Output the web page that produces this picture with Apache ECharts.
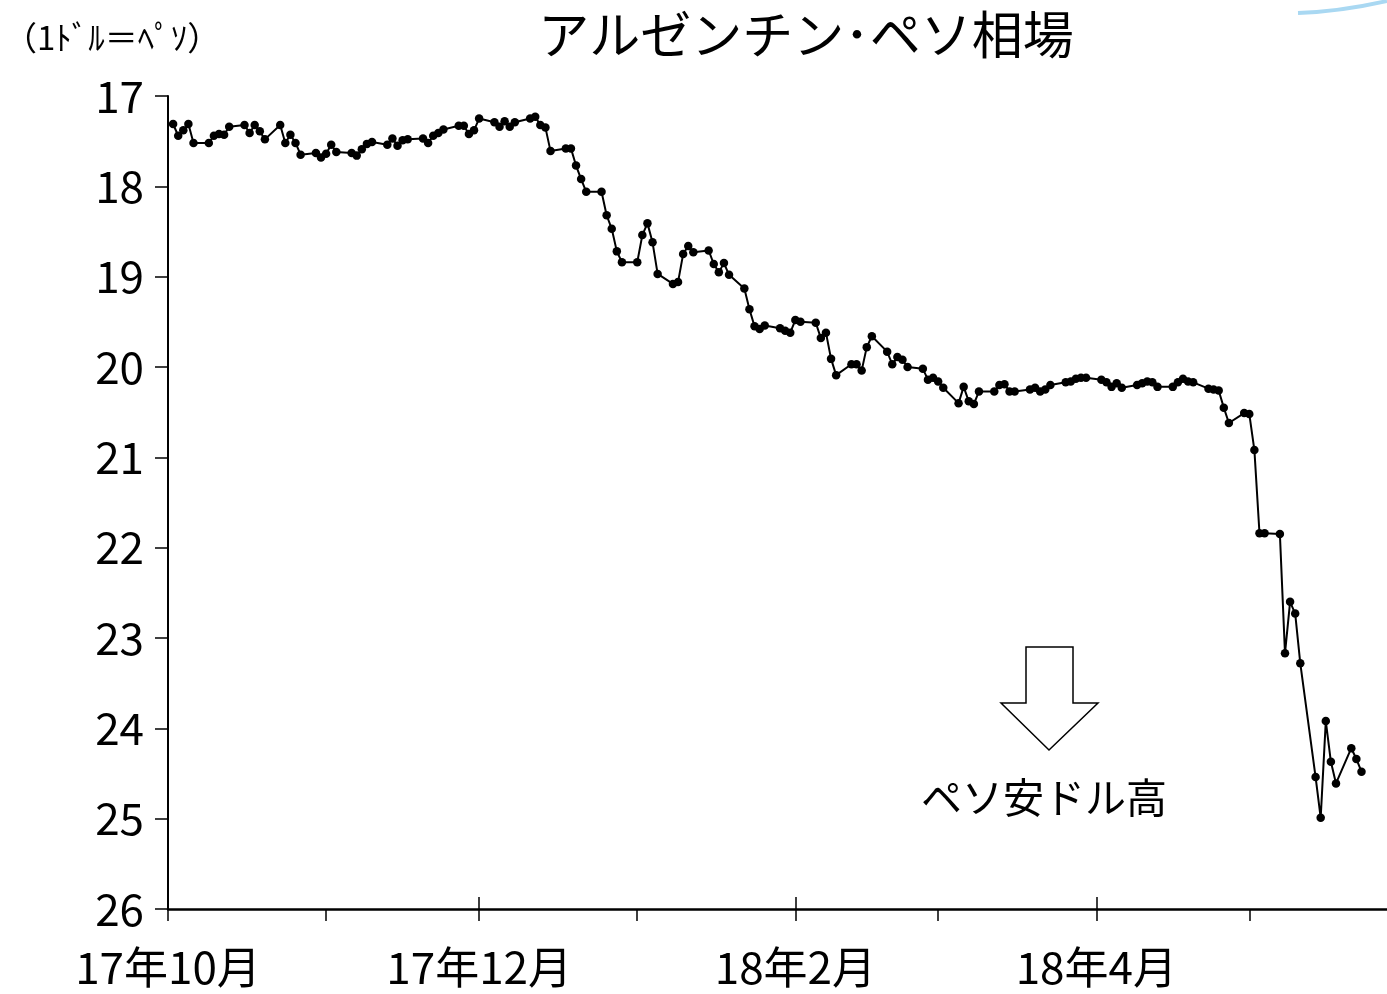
<!DOCTYPE html>
<html>
<head>
<meta charset="utf-8">
<script src="https://cdn.jsdelivr.net/npm/echarts@6/dist/echarts.min.js"></script>
<style>
  html, body { margin: 0; padding: 0; background: #fff; }
  #chart { width: 1387px; height: 994px; }
</style>
</head>
<body>
<div id="chart"></div>
<script>
// 日付 (営業日) と 1ドル=ペソ の値
const dates = [
  '2017-10-02','2017-10-03','2017-10-04','2017-10-05','2017-10-06',
  '2017-10-09','2017-10-10','2017-10-11','2017-10-12','2017-10-13',
  '2017-10-16','2017-10-17','2017-10-18','2017-10-19','2017-10-20',
  '2017-10-23','2017-10-24','2017-10-25','2017-10-26','2017-10-27',
  '2017-10-30','2017-10-31','2017-11-01','2017-11-02','2017-11-03',
  '2017-11-06','2017-11-07','2017-11-08','2017-11-09','2017-11-10',
  '2017-11-13','2017-11-14','2017-11-15','2017-11-16','2017-11-17',
  '2017-11-20','2017-11-21','2017-11-22','2017-11-23','2017-11-24',
  '2017-11-27','2017-11-28','2017-11-29','2017-11-30','2017-12-01',
  '2017-12-04','2017-12-05','2017-12-06','2017-12-07','2017-12-08',
  '2017-12-11','2017-12-12','2017-12-13','2017-12-14','2017-12-15',
  '2017-12-18','2017-12-19','2017-12-20','2017-12-21','2017-12-22',
  '2017-12-25','2017-12-26','2017-12-27','2017-12-28','2017-12-29',
  '2018-01-01','2018-01-02','2018-01-03','2018-01-04','2018-01-05',
  '2018-01-08','2018-01-09','2018-01-10','2018-01-11','2018-01-12',
  '2018-01-15','2018-01-16','2018-01-17','2018-01-18','2018-01-19',
  '2018-01-22','2018-01-23','2018-01-24','2018-01-25','2018-01-26',
  '2018-01-29','2018-01-30','2018-01-31','2018-02-01','2018-02-02',
  '2018-02-05','2018-02-06','2018-02-07','2018-02-08','2018-02-09',
  '2018-02-12','2018-02-13','2018-02-14','2018-02-15','2018-02-16',
  '2018-02-19','2018-02-20','2018-02-21','2018-02-22','2018-02-23',
  '2018-02-26','2018-02-27','2018-02-28','2018-03-01','2018-03-02',
  '2018-03-05','2018-03-06','2018-03-07','2018-03-08','2018-03-09',
  '2018-03-12','2018-03-13','2018-03-14','2018-03-15','2018-03-16',
  '2018-03-19','2018-03-20','2018-03-21','2018-03-22','2018-03-23',
  '2018-03-26','2018-03-27','2018-03-28','2018-03-29','2018-03-30',
  '2018-04-02','2018-04-03','2018-04-04','2018-04-05','2018-04-06',
  '2018-04-09','2018-04-10','2018-04-11','2018-04-12','2018-04-13',
  '2018-04-16','2018-04-17','2018-04-18','2018-04-19','2018-04-20',
  '2018-04-23','2018-04-24','2018-04-25','2018-04-26','2018-04-27',
  '2018-04-30','2018-05-01','2018-05-02','2018-05-03','2018-05-04',
  '2018-05-07','2018-05-08','2018-05-09','2018-05-10','2018-05-11',
  '2018-05-14','2018-05-15','2018-05-16','2018-05-17','2018-05-18',
  '2018-05-21','2018-05-22','2018-05-23'
]
const peso = [
  17.31, 17.44, 17.38, 17.31, 17.52,
  17.52, 17.44, 17.42, 17.43, 17.34,
  17.32, 17.41, 17.32, 17.39, 17.48,
  17.32, 17.52, 17.43, 17.52, 17.65,
  17.63, 17.68, 17.64, 17.54, 17.62,
  17.63, 17.66, 17.59, 17.53, 17.51,
  17.54, 17.47, 17.55, 17.49, 17.48,
  17.47, 17.52, 17.44, 17.41, 17.37,
  17.33, 17.33, 17.42, 17.38, 17.25,
  17.29, 17.34, 17.28, 17.34, 17.29,
  17.25, 17.23, 17.32, 17.35, 17.61,
  17.58, 17.58, 17.77, 17.92, 18.06,
  18.06, 18.32, 18.47, 18.72, 18.84,
  18.84, 18.54, 18.41, 18.62, 18.97,
  19.08, 19.06, 18.75, 18.66, 18.73,
  18.71, 18.86, 18.95, 18.85, 18.98,
  19.13, 19.36, 19.55, 19.58, 19.54,
  19.57, 19.60, 19.62, 19.48, 19.50,
  19.51, 19.68, 19.62, 19.91, 20.09,
  19.97, 19.97, 20.04, 19.78, 19.66,
  19.83, 19.97, 19.89, 19.92, 20.00,
  20.02, 20.14, 20.12, 20.16, 20.23,
  20.40, 20.22, 20.38, 20.41, 20.27,
  20.27, 20.20, 20.19, 20.27, 20.27,
  20.25, 20.23, 20.27, 20.25, 20.20,
  20.17, 20.16, 20.13, 20.12, 20.12,
  20.14, 20.17, 20.22, 20.18, 20.23,
  20.20, 20.18, 20.16, 20.17, 20.22,
  20.22, 20.17, 20.13, 20.16, 20.17,
  20.24, 20.25, 20.26, 20.45, 20.62,
  20.51, 20.52, 20.92, 21.84, 21.84,
  21.85, 23.17, 22.60, 22.73, 23.28,
  24.54, 24.99, 23.92, 24.37, 24.61,
  24.22, 24.34, 24.48
]
// 目盛 (月初)
const labelMonths = ['2017-10-01', '2017-12-01', '2018-02-01', '2018-04-01']
const minorMonths = ['2017-11-01', '2018-01-01', '2018-03-01', '2018-05-01']
const xStart = '2017-10-01'
const xEnd = '2018-05-28'

// 日付 → 日数 (2017-10-01 起点)
const DAY = 86400000
const dayNo = (s) => {
  const [y, m, d] = s.split('-').map(Number)
  return Math.round((Date.UTC(y, m - 1, d) - Date.UTC(2017, 9, 1)) / DAY)
}
const dayLabel = (n) => {
  const d = new Date(Date.UTC(2017, 9, 1) + n * DAY)
  return String(d.getUTCFullYear()).slice(2) + '年' + (d.getUTCMonth() + 1) + '月'
}

const chart = echarts.init(document.getElementById('chart'))
const font = '"Noto Sans CJK JP", "Noto Sans", sans-serif'

const option = {
  animation: false,
  backgroundColor: '#fff',
  textStyle: { fontFamily: font },
  title: {
    text: 'アルゼンチン･ペソ相場',
    left: 801,
    textAlign: 'center',
    top: 4,
    textStyle: { fontFamily: font, fontSize: 51, fontWeight: 'normal', color: '#000' }
  },
  grid: {
    left: 168, right: 0, top: 96, bottom: 85,
    containLabel: false,
    outerBoundsMode: 'none'
  },
  xAxis: [
    {
      type: 'value',
      min: dayNo(xStart),
      max: dayNo(xEnd),
      axisLine: { lineStyle: { color: '#000', width: 2.5 } },
      axisTick: {
        show: true, inside: false, length: 12,
        customValues: labelMonths.concat(minorMonths).map(dayNo),
        lineStyle: { color: '#000', width: 1.5 }
      },
      axisLabel: {
        customValues: labelMonths.map(dayNo),
        color: '#000', fontSize: 44, fontFamily: font, margin: 36,
        formatter: dayLabel
      },
      splitLine: { show: false }
    },
    {
      type: 'value',
      min: dayNo(xStart),
      max: dayNo(xEnd),
      position: 'bottom',
      axisLine: { show: false },
      axisTick: {
        show: true, inside: true, length: 12,
        customValues: labelMonths.map(dayNo),
        lineStyle: { color: '#000', width: 1.5 }
      },
      axisLabel: { show: false },
      splitLine: { show: false }
    }
  ],
  yAxis: {
    type: 'value',
    inverse: true,
    min: 17, max: 26, interval: 1,
    axisLine: { show: true, lineStyle: { color: '#000', width: 2 } },
    axisTick: { show: true, inside: false, length: 13, lineStyle: { color: '#000', width: 1.5 } },
    axisLabel: { color: '#000', fontSize: 44, fontFamily: font, margin: 24 },
    splitLine: { show: false }
  },
  series: [
    {
      type: 'line',
      data: dates.map((d, i) => [dayNo(d), peso[i]]),
      showAllSymbol: true,
      symbol: 'circle',
      symbolSize: 8.5,
      itemStyle: { color: '#000' },
      lineStyle: { color: '#000', width: 2 }
    }
  ],
  graphic: [
    {
      type: 'text', left: 4, top: 21,
      style: { text: '（1ﾄﾞﾙ＝ﾍﾟｿ）', fontSize: 33, fontFamily: font, fill: '#000' }
    },
    {
      // 下向き矢印
      type: 'polygon',
      shape: { points: [[1026, 647], [1073, 647], [1073, 703], [1098, 703], [1049, 750], [1001, 703], [1026, 703]] },
      style: { fill: '#fff', stroke: '#000', lineWidth: 1.5 }
    },
    {
      type: 'text', x: 1044, y: 797,
      style: { text: 'ペソ安ドル高', fontSize: 41, fontFamily: font, fill: '#000', align: 'center', verticalAlign: 'middle' }
    },
    {
      // 右上の青い曲線の切れ端
      type: 'bezierCurve',
      shape: { x1: 1298, y1: 13, x2: 1387, y2: 1, cpx1: 1330, cpy1: 12, cpx2: 1365, cpy2: 6 },
      style: { stroke: '#a9d8f2', lineWidth: 4, fill: null }
    }
  ]
}

chart.setOption(option)
</script>
</body>
</html>
